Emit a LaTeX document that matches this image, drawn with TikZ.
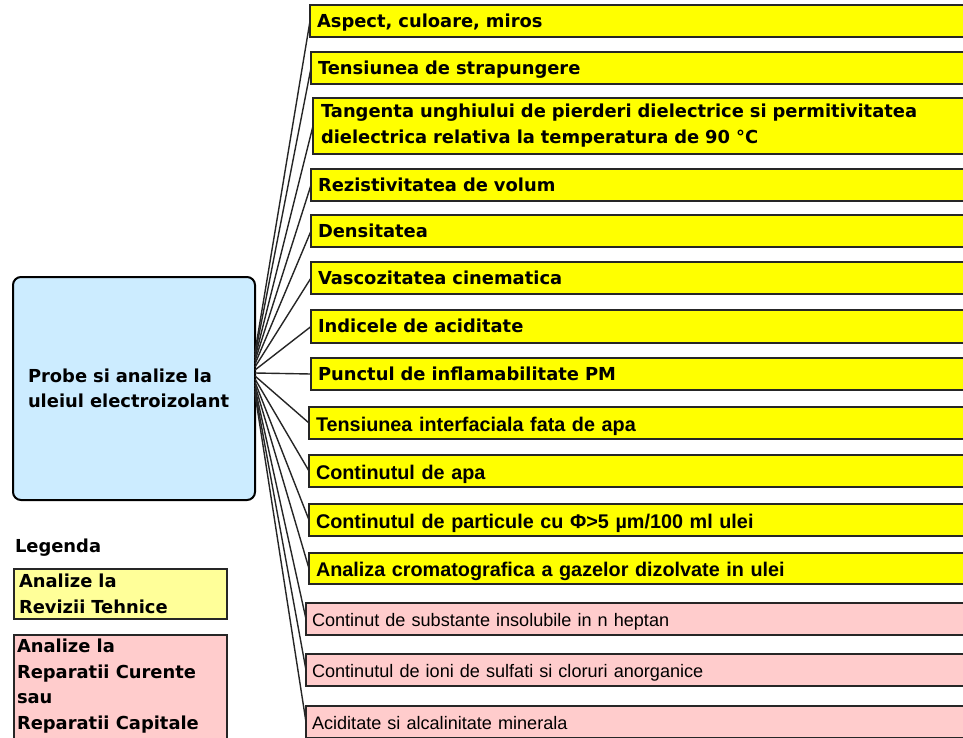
\documentclass[tikz,border=0pt]{standalone}
\usepackage{fontspec}
\setmainfont{DejaVu Sans}
\newfontfamily\arialfont{Liberation Sans}

\definecolor{itemyellow}{HTML}{FFFF00}
\definecolor{itempink}{HTML}{FFCCCC}
\definecolor{legendyellow}{HTML}{FFFF99}
\definecolor{rootblue}{HTML}{CCECFF}

\begin{document}
\begin{tikzpicture}[x=1pt,y=-1pt,
  every node/.style={inner sep=0pt, outer sep=0pt},
  dvfont/.style={font=\bfseries\fontsize{17.9}{25.5}\selectfont},
  arfont/.style={font=\arialfont\bfseries\fontsize{19.8}{25}\selectfont},
  pkfont/.style={font=\arialfont\fontsize{18.1}{25}\selectfont},
  itembox/.style={draw=black!85, line width=1.5pt, anchor=north west,
    align=left, inner xsep=7pt, inner ysep=0pt, minimum height=32pt},
  yitem/.style={itembox, fill=itemyellow, dvfont, text height=14pt, text depth=2pt},
  aitem/.style={itembox, fill=itemyellow, arfont, text height=17pt, text depth=1pt},
  pitem/.style={itembox, fill=itempink, pkfont, inner xsep=6pt, text height=15pt, text depth=1pt},
  legbox/.style={draw=black!85, line width=1.5pt, anchor=north west, minimum width=213pt},
  conn/.style={draw=black!85, line width=1.4pt},
]
\clip (0,0) rectangle (963,737);
\fill[white] (0,0) rectangle (963,737);

% central topic
\node[draw=black, line width=2pt, rounded corners=8pt, fill=rootblue,
      anchor=north west, minimum width=242pt, minimum height=223pt,
      text width=212pt, inner xsep=15pt, align=left, dvfont]
  (c) at (13,277) {Probe si analize la\\uleiul electroizolant};

% analyses (right column)
\node[yitem, text width=651pt] (r1) at (310,5)   {Aspect, culoare, miros};
\node[yitem, text width=650pt] (r2) at (311,52)  {Tensiunea de strapungere};
\node[itembox, fill=itemyellow, font=\bfseries\fontsize{17.9}{26}\selectfont,
      minimum height=56pt, inner xsep=8pt, text width=646pt]
  (r3) at (313,98) {Tangenta unghiului de pierderi dielectrice si permitivitatea\\dielectrica relativa la temperatura de 90 °C};
\node[yitem, text width=650pt] (r4) at (311,169) {Rezistivitatea de volum};
\node[yitem, text width=650pt] (r5) at (311,215) {Densitatea};
\node[yitem, text width=650pt] (r6) at (311,262) {Vascozitatea cinematica};
\node[yitem, text width=650pt, minimum height=33pt] (r7) at (311,310) {Indicele de aciditate};
\node[yitem, text width=650pt] (r8) at (311,358) {Punctul de inflamabilitate PM};
\node[aitem, text width=652pt] (r9)  at (309,407) {Tensiunea interfaciala fata de apa};
\node[aitem, text width=652pt] (r10) at (309,455) {Continutul de apa};
\node[aitem, text width=652pt] (r11) at (309,504) {Continutul de particule cu Φ>5 µm/100 ml ulei};
\node[aitem, text width=652pt, minimum height=31pt] (r12) at (309,553) {Analiza cromatografica a gazelor dizolvate in ulei};
\node[pitem, text width=657pt] (r13) at (306,603) {Continut de substante insolubile in n heptan};
\node[pitem, text width=657pt] (r14) at (306,654) {Continutul de ioni de sulfati si cloruri anorganice};
\node[pitem, text width=657pt] (r15) at (306,706) {Aciditate si alcalinitate minerala};

% connectors fanning out of the central topic
\foreach \i in {1,...,15} {
  \pgfmathsetmacro\dy{36.5-3*(\i-1)}
  \draw[conn] ([yshift=\dy pt]c.east) -- (r\i.west);
}

% legend
\node[anchor=west, dvfont, text height=14pt, text depth=2pt] (leg) at (15,546) {Legenda};
\node[legbox, fill=legendyellow, minimum height=50pt,
      text width=203pt, inner xsep=5pt, align=left, dvfont]
  (legy) at (14,569) {Analize la\\Revizii Tehnice};
\node[legbox, fill=itempink, minimum height=115pt] (legp) at (14,635) {};
\node[anchor=north west, align=left, dvfont]
  (legptext) at ([xshift=3pt,yshift=-4pt]legp.north west)
  {Analize la\\Reparatii Curente\\sau\\Reparatii Capitale};
\end{tikzpicture}
\end{document}
